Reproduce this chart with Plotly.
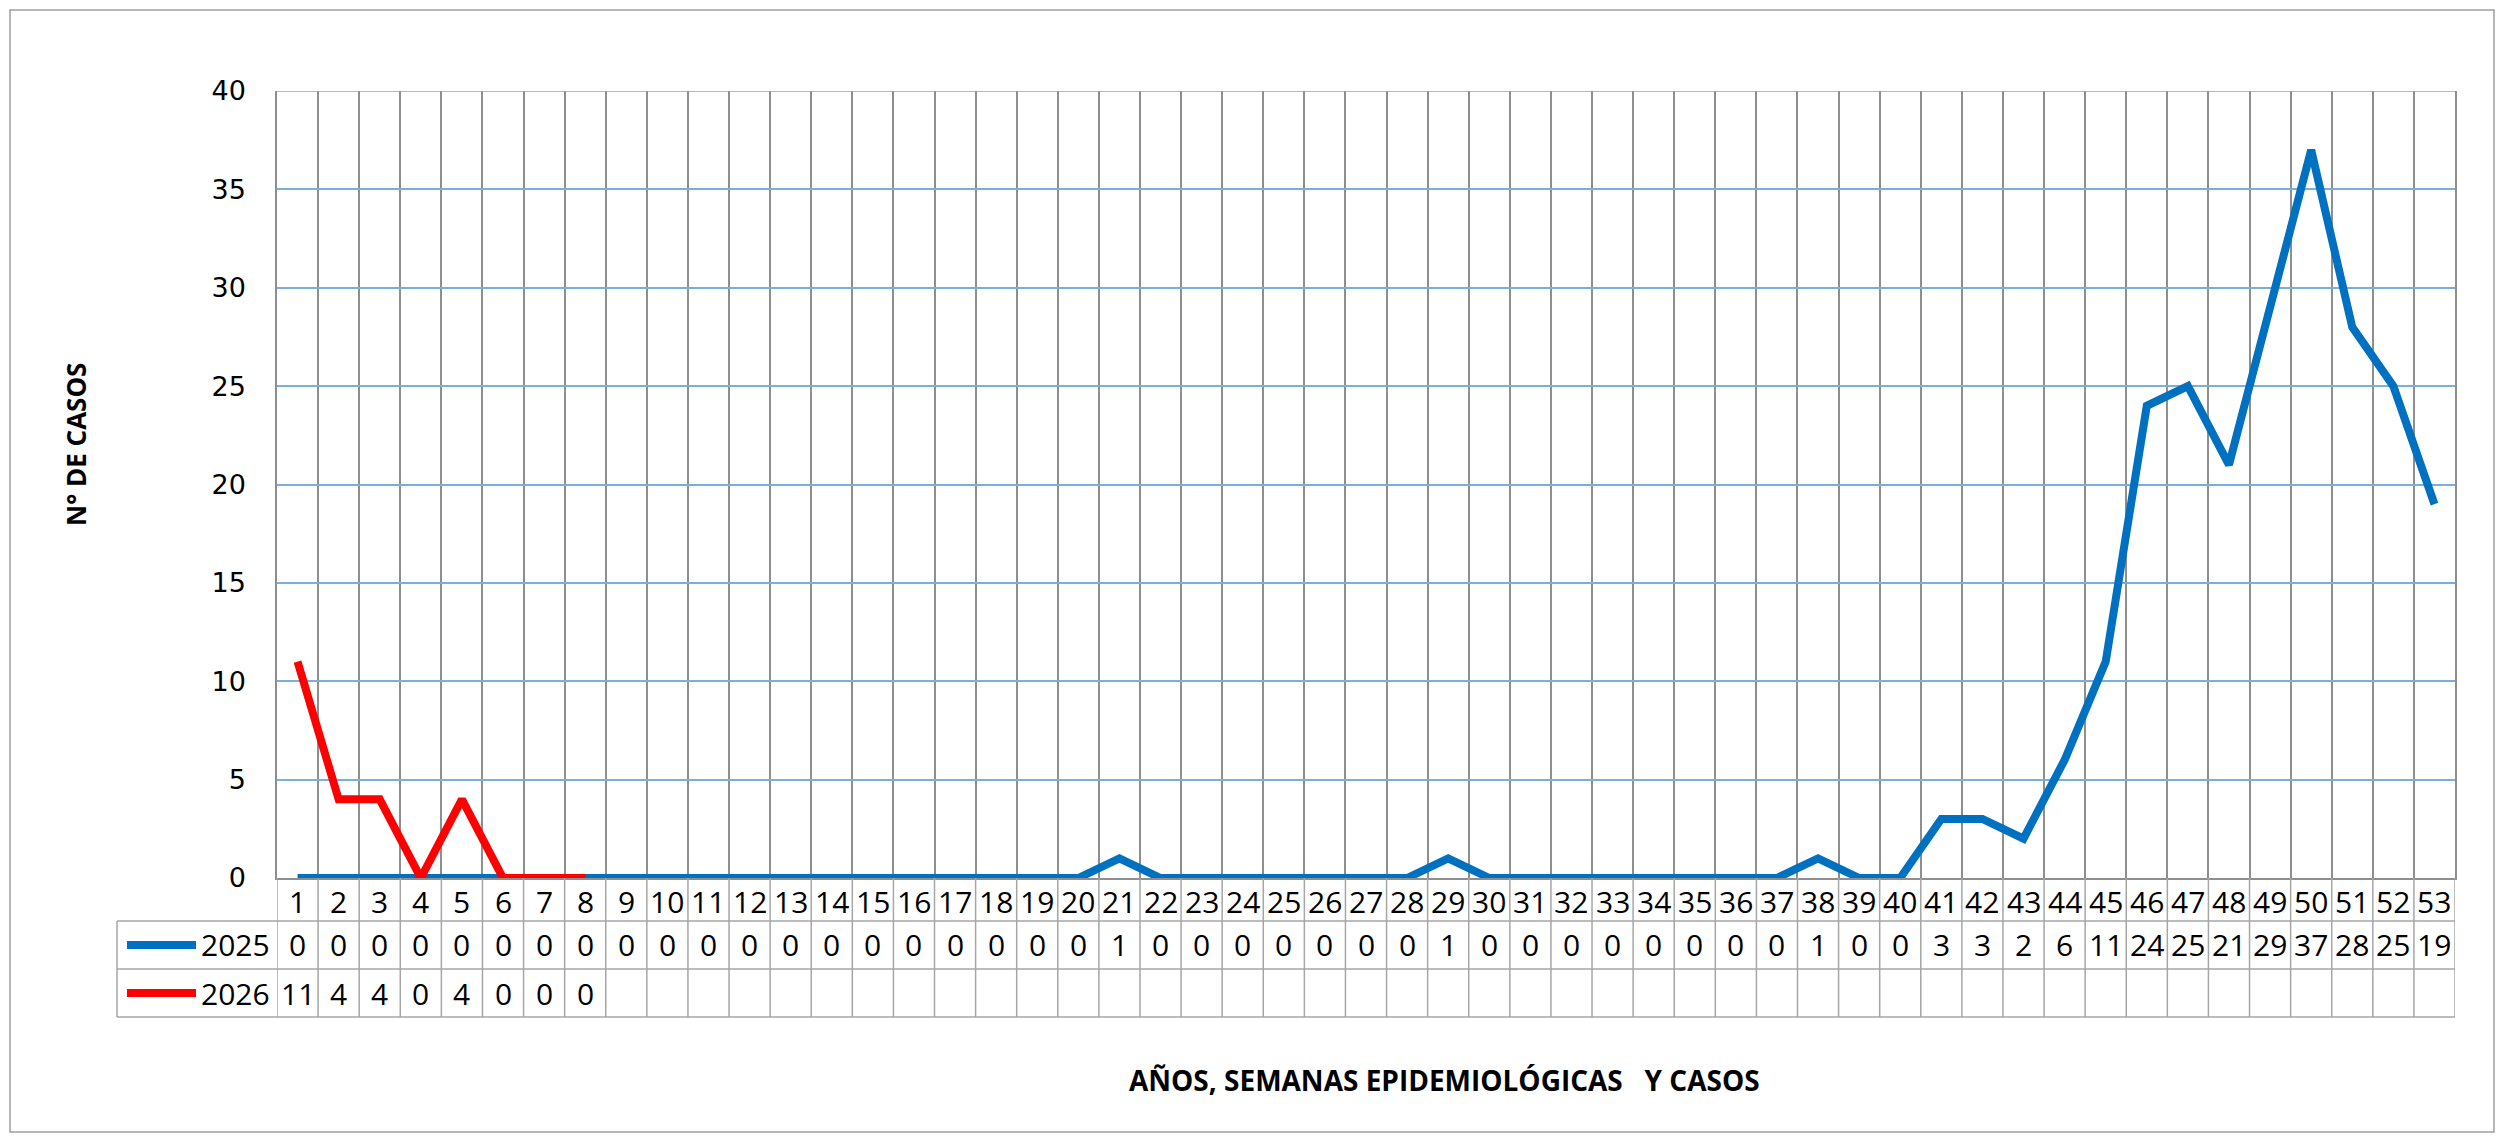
import plotly.graph_objects as go

weeks = list(range(1, 54))
cases_2025 = [0, 0, 0, 0, 0, 0, 0, 0, 0, 0, 0, 0, 0, 0, 0, 0, 0, 0, 0, 0,
              1, 0, 0, 0, 0, 0, 0, 0, 1, 0, 0, 0, 0, 0, 0, 0, 0, 1, 0, 0,
              3, 3, 2, 6, 11, 24, 25, 21, 29, 37, 28, 25, 19]
cases_2026 = [11, 4, 4, 0, 4, 0, 0, 0]
series_names = ["2025", "2026"]
series_colors = ["#0070C0", "#FF0000"]
y_ticks = [0, 5, 10, 15, 20, 25, 30, 35, 40]
y_title = "N° DE CASOS"
x_title = "AÑOS, SEMANAS EPIDEMIOLÓGICAS\u00a0\u00a0\u00a0Y CASOS"

OFF = 8  # page body margin
W_FIG, H_FIG = 2504 - 2 * OFF, 1142 - 2 * OFF
L, R, T, B = 277 - OFF, 2455 - OFF, 91 - OFF, 878 - OFF
PW, PH = R - L, B - T


def px(x):
    return (x - OFF - L) / PW


def py(y):
    return (B - (y - OFF)) / PH


fig = go.Figure()
series = [cases_2025, cases_2026]
for name, vals, col in zip(series_names, series, series_colors):
    fig.add_trace(go.Scatter(
        x=weeks[:len(vals)], y=vals, mode="lines", name=name,
        line=dict(color=col, width=8), showlegend=False,
    ))

grid_gray = "#8E8E8E"
table_gray = "#A6A6A6"
hgrid = "#7AAEDD"
boundaries = [w - 0.5 for w in weeks] + [weeks[-1] + 0.5]

shapes = []
row_lines = [921, 969, 1017]
table_left = 117
for ry in row_lines:
    shapes.append(dict(type="line", xref="paper", yref="paper",
                       x0=px(table_left), x1=1, y0=py(ry), y1=py(ry),
                       line=dict(color=table_gray, width=1.5)))
shapes.append(dict(type="line", xref="paper", yref="paper",
                   x0=px(table_left), x1=px(table_left), y0=py(921), y1=py(1017),
                   line=dict(color=table_gray, width=1.5)))
for b in boundaries:
    shapes.append(dict(type="line", xref="x", yref="paper",
                       x0=b, x1=b, y0=py(1017), y1=0,
                       line=dict(color=table_gray, width=1.5)))
shapes.append(dict(type="line", xref="paper", yref="y", x0=0, x1=1, y0=40, y1=40,
                   line=dict(color=hgrid, width=1.5)))
row_centers = [945, 993]
for rc, col in zip(row_centers, series_colors):
    shapes.append(dict(type="line", xref="paper", yref="paper",
                       x0=px(127), x1=px(196), y0=py(rc), y1=py(rc),
                       line=dict(color=col, width=8)))
shapes.append(dict(type="rect", xref="paper", yref="paper",
                   x0=px(10), x1=px(2494), y0=py(1132), y1=py(10),
                   line=dict(color="#A0A0A0", width=1.5)))

ann = []
tfont = dict(family="Open Sans", size=30, color="black")
for w in weeks:
    ann.append(dict(x=w, y=py(901), xref="x", yref="paper", text=str(w),
                    showarrow=False, font=tfont, xanchor="center", yanchor="middle"))
for vals, rc in zip(series, row_centers):
    for w, v in zip(weeks, vals):
        ann.append(dict(x=w, y=py(rc), xref="x", yref="paper", text=str(v),
                        showarrow=False, font=tfont, xanchor="center", yanchor="middle"))
for name, rc in zip(series_names, row_centers):
    ann.append(dict(x=px(199), y=py(rc), xref="paper", yref="paper", text=name,
                    showarrow=False, font=tfont, xanchor="left", yanchor="middle"))
ann.append(dict(x=px(76), y=py(445), xref="paper", yref="paper", text="<b>" + y_title + "</b>",
                showarrow=False, font=dict(family="Open Sans", size=26, color="black"),
                textangle=-90, xanchor="center", yanchor="middle"))
ann.append(dict(x=px(1444), y=py(1080), xref="paper", yref="paper", text="<b>" + x_title + "</b>",
                showarrow=False, font=dict(family="Open Sans", size=28, color="black"),
                xanchor="center", yanchor="middle"))

fig.update_layout(
    width=W_FIG, height=H_FIG, autosize=False,
    margin=dict(l=L, r=W_FIG - R, t=T, b=H_FIG - B, pad=0),
    paper_bgcolor="white", plot_bgcolor="white",
    shapes=shapes, annotations=ann,
    xaxis=dict(range=[0.5, 53.5], tickvals=boundaries, showticklabels=False,
               ticks="", showgrid=True, gridcolor=grid_gray, gridwidth=1.5,
               showline=True, linecolor=grid_gray, linewidth=1.5,
               zeroline=False, automargin=False, fixedrange=True),
    yaxis=dict(range=[0, 40], tickvals=y_ticks, ticks="", showgrid=True,
               gridcolor=hgrid, gridwidth=1.5, zeroline=False,
               showline=True, linecolor=grid_gray, linewidth=1.5, mirror=True,
               ticklabelstandoff=24, automargin=False,
               tickfont=dict(family="DejaVu Sans", size=27, color="black")),
)

fig.write_html("out.html")
